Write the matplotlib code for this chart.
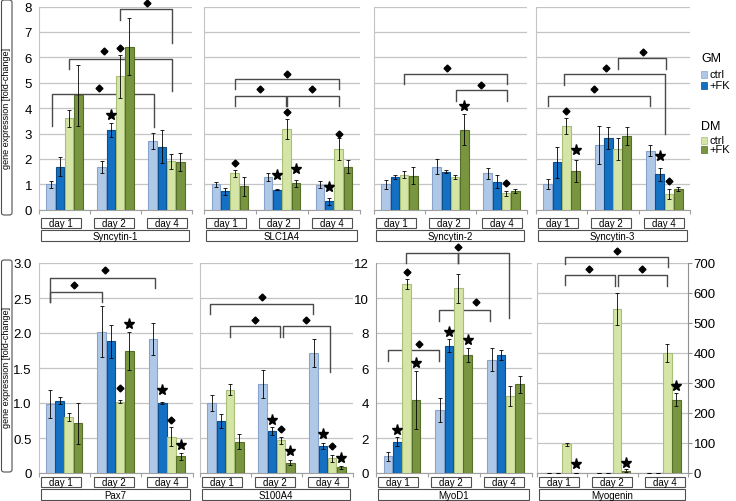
# gene expression bar panels (fold-change), GM / DM with and without FK
import matplotlib.pyplot as plt
from matplotlib.patches import Rectangle, FancyBboxPatch
import numpy as np

plt.rcParams['font.family'] = ['Liberation Sans', 'DejaVu Sans']

days = ['day 1', 'day 2', 'day 4']
series = ['GM ctrl', 'GM +FK', 'DM ctrl', 'DM +FK']

# rows = day 1 / day 2 / day 4, columns = GM ctrl, GM +FK, DM ctrl, DM +FK
syncytin1 = [[1.0, 1.7, 3.6, 4.5], [1.68, 3.15, 5.25, 6.42], [2.7, 2.47, 1.9, 1.88]]
syncytin1_err = [[0.13, 0.37, 0.33, 1.2], [0.24, 0.27, 0.84, 1.12], [0.32, 0.65, 0.28, 0.37]]
slc1a4 = [[1.0, 0.72, 1.44, 0.92], [1.3, 0.79, 3.19, 1.04], [0.98, 0.33, 2.39, 1.7]]
slc1a4_err = [[0.1, 0.13, 0.14, 0.37], [0.16, 0.03, 0.4, 0.13], [0.14, 0.14, 0.42, 0.25]]
syncytin2 = [[1.0, 1.28, 1.38, 1.34], [1.69, 1.5, 1.3, 3.15], [1.43, 1.11, 0.64, 0.75]]
syncytin2_err = [[0.18, 0.07, 0.15, 0.33], [0.3, 0.05, 0.08, 0.62], [0.22, 0.25, 0.1, 0.08]]
syncytin3 = [[1.0, 1.86, 3.3, 1.53], [2.54, 2.82, 2.39, 2.89], [2.32, 1.4, 0.62, 0.81]]
syncytin3_err = [[0.2, 0.6, 0.3, 0.43], [0.74, 0.43, 0.44, 0.36], [0.22, 0.26, 0.18, 0.09]]
pax7 = [[0.99, 1.03, 0.8, 0.71], [2.02, 1.88, 1.02, 1.74], [1.91, 1.0, 0.52, 0.24]]
pax7_err = [[0.2, 0.05, 0.06, 0.29], [0.36, 0.23, 0.02, 0.27], [0.23, 0.02, 0.14, 0.05]]
s100a4 = [[1.0, 0.75, 1.19, 0.45], [1.27, 0.6, 0.47, 0.15], [1.72, 0.39, 0.21, 0.08]]
s100a4_err = [[0.11, 0.1, 0.08, 0.11], [0.2, 0.06, 0.05, 0.03], [0.2, 0.04, 0.05, 0.02]]
myod1 = [[0.95, 1.78, 10.8, 4.17], [3.6, 7.28, 10.57, 6.74], [6.48, 6.74, 4.38, 5.08]]
myod1_err = [[0.25, 0.25, 0.3, 1.65], [0.7, 0.35, 0.83, 0.38], [0.67, 0.3, 0.57, 0.48]]
myogenin = [[0, 0, 96, 1], [0, 0, 547, 8], [0, 0, 401, 244]]
myogenin_err = [[0, 0, 5, 0], [0, 0, 53, 5], [0, 0, 30, 22]]

# significance marks: (day, series, height, 'D' diamond / '*' star)
syncytin1_marks = [(1, 1, 3.72, '*'), (1, 2, 6.35, 'D')]
slc1a4_marks = [(0, 2, 1.84, 'D'), (1, 1, 1.37, '*'), (1, 2, 3.86, 'D'), (1, 3, 1.6, '*'),
                (2, 1, 0.9, '*'), (2, 2, 3.0, 'D')]
syncytin2_marks = [(1, 3, 4.07, '*'), (2, 2, 1.05, 'D')]
syncytin3_marks = [(0, 2, 3.9, 'D'), (0, 3, 2.36, '*'), (2, 1, 2.1, '*'), (2, 2, 1.14, 'D')]
pax7_marks = [(1, 2, 1.21, 'D'), (1, 3, 2.13, '*'), (2, 1, 1.19, '*'), (2, 2, 0.76, 'D'),
              (2, 3, 0.4, '*')]
s100a4_marks = [(1, 1, 0.76, '*'), (1, 2, 0.63, 'D'), (1, 3, 0.31, '*'), (2, 1, 0.56, '*'),
                (2, 2, 0.39, 'D'), (2, 3, 0.21, '*')]
myod1_marks = [(0, 1, 2.44, '*'), (0, 2, 11.46, 'D'), (0, 3, 6.3, '*'), (1, 1, 8.04, '*'),
               (1, 3, 7.6, '*')]
myogenin_marks = [(0, 3, 30, '*'), (1, 3, 33, '*'), (2, 3, 290, '*')]

# brackets: (x left, x right, top, left end, right end, diamond x, diamond y), x in day units 0..3
syncytin1_br = [(0.25, 2.25, 4.55, 3.28, 3.27, 1.17, 4.81),
                (0.58, 2.61, 5.95, 5.53, 4.68, 1.28, 6.23),
                (1.59, 2.61, 7.9, 7.47, 6.58, 2.12, 8.13)]
slc1a4_br = [(0.6, 2.59, 5.14, 4.75, 4.75, 1.6, 5.36),
             (0.6, 1.57, 4.49, 4.07, 4.07, 1.08, 4.75),
             (1.6, 2.59, 4.49, 4.07, 4.07, 2.07, 4.75)]
syncytin2_br = [(0.59, 2.6, 5.34, 4.95, 4.95, 1.44, 5.56),
                (1.6, 2.6, 4.71, 4.29, 4.29, 2.09, 4.92)]
syncytin3_br = [(0.23, 2.23, 4.49, 4.07, 4.07, 1.13, 4.75),
                (0.54, 2.52, 5.34, 4.9, 3.0, 1.37, 5.56),
                (1.59, 2.53, 5.97, 5.53, 5.55, 2.08, 6.22)]
pax7_br = [(0.23, 1.23, 2.59, 2.45, 2.45, 0.69, 2.69),
           (0.23, 2.26, 2.78, 2.45, 2.64, 1.29, 2.9)]
s100a4_br = [(0.2, 2.21, 2.41, 2.27, 2.27, 1.22, 2.52),
             (0.59, 1.57, 2.1, 1.95, 1.95, 1.07, 2.18),
             (1.62, 2.55, 2.1, 1.95, 1.45, 2.08, 2.18)]
myod1_br = [(0.58, 2.57, 12.6, 12.0, 8.84, 1.58, 12.9),
            (1.58, 1.58, 12.6, 11.98, 11.98, None, None),
            (0.23, 1.21, 7.05, 6.38, 6.4, 0.83, 7.38),
            (1.21, 2.2, 9.33, 8.7, 8.7, 1.92, 9.79)]
myogenin_br = [(0.56, 2.6, 720, 698, 687, 1.59, 741),
               (0.56, 1.54, 661, 628, 625, 1.04, 680),
               (1.6, 2.59, 661, 625, 625, 2.08, 680)]

face = ['#b0c8e8', '#1470c2', '#d4e5a6', '#78953f']
edge = ['#88a4cc', '#0c4f8e', '#a9bf78', '#56702c']
offs = np.array([-0.27, -0.09, 0.09, 0.27])

W, H = 736, 502
fig = plt.figure(figsize=(W / 100, H / 100), dpi=100)


def rect(l, t, r, b):
    return [l / W, 1 - b / H, (r - l) / W, (b - t) / H]


def panel(box, vals, errs, marks, brackets, ymax, step, labels=None, right=False):
    ax = fig.add_axes(rect(*box))
    vals = np.array(vals, dtype=float)
    errs = np.array(errs, dtype=float)
    x0 = np.arange(3) + 0.5
    for j in range(4):
        ax.bar(x0 + offs[j], vals[:, j], width=0.17, color=face[j], edgecolor=edge[j],
               linewidth=0.8, zorder=3)
        ax.errorbar(x0 + offs[j], vals[:, j], yerr=errs[:, j], fmt='none', ecolor='black',
                    elinewidth=0.6, capsize=1.5, capthick=0.6, zorder=4)
    for d, s, y, m in marks:
        ax.plot(x0[d] + offs[s], y, marker=m, color='black', ms=3.5 if m == 'D' else 8,
                zorder=5, clip_on=False)
    for xl, xr, yt, yl, yr, dx, dy in brackets:
        ax.plot([xl, xl, xr, xr], [yl, yt, yt, yr], color='#4a4a4a', lw=1.0, zorder=2,
                clip_on=False)
        if dx is not None:
            ax.plot(dx, dy, marker='D', color='black', ms=3.5, zorder=5, clip_on=False)
    ax.set_xlim(0, 3)
    ax.set_ylim(0, ymax)
    ax.set_yticks(np.arange(0, ymax + step / 2, step))
    ax.grid(axis='y', color='#c4c4c4', lw=0.9, zorder=0)
    ax.set_axisbelow(True)
    ax.set_xticks([0, 1, 2, 3])
    ax.set_xticklabels([])
    ax.tick_params(axis='x', length=3, color='#a0a0a0')
    for s in ['top', 'right']:
        ax.spines[s].set_visible(False)
    ax.spines['bottom'].set_color('#a0a0a0')
    ax.spines['left'].set_color('#c4c4c4')
    if right:
        ax.spines['right'].set_visible(True)
        ax.spines['right'].set_color('#909090')
        ax.yaxis.tick_right()
        ax.tick_params(axis='y', length=3, pad=1, color='#909090', labelsize=9.5)
    else:
        ax.tick_params(axis='y', length=0, pad=5, labelsize=9.5)
    if labels is None:
        ax.set_yticklabels([])
    else:
        ax.set_yticklabels(labels)
    return ax


def boxes(l, r, top, name):
    for i, d in enumerate(days):
        c = l + 22 + 53 * i
        fig.add_artist(Rectangle(((c - 20) / W, 1 - (top + 10) / H), 40 / W, 10 / H,
                                 transform=fig.transFigure, fill=False, ec='#505050', lw=0.8))
        fig.text(c / W, 1 - (top + 5) / H, d, ha='center', va='center', fontsize=7)
    fig.add_artist(Rectangle(((l + 2) / W, 1 - (top + 23) / H), (r - l - 5) / W, 11 / H,
                             transform=fig.transFigure, fill=False, ec='#505050', lw=0.8))
    fig.text((l + (r - l - 1) / 2) / W, 1 - (top + 17.5) / H, name, ha='center', va='center',
             fontsize=7)


top_labels = [str(v) for v in range(0, 9)]
panel((39, 7.5, 192, 210.7), syncytin1, syncytin1_err, syncytin1_marks, syncytin1_br, 8, 1,
      top_labels)
panel((204, 7.5, 360, 210.7), slc1a4, slc1a4_err, slc1a4_marks, slc1a4_br, 8, 1)
panel((374, 7.5, 527, 210.7), syncytin2, syncytin2_err, syncytin2_marks, syncytin2_br, 8, 1)
panel((536, 7.5, 690, 210.7), syncytin3, syncytin3_err, syncytin3_marks, syncytin3_br, 8, 1)

pax_labels = ['0', '0.5', '1.0', '1.5', '2.0', '2.5', '3.0']
panel((38.5, 264, 192.5, 474), pax7, pax7_err, pax7_marks, pax7_br, 3.0, 0.5, pax_labels)
panel((200, 264, 353, 474), s100a4, s100a4_err, s100a4_marks, s100a4_br, 3.0, 0.5)
ax_m = panel((376, 264, 531.5, 474), myod1, myod1_err, myod1_marks, myod1_br, 12, 2,
             [str(v) for v in range(0, 13, 2)])
ax_m.spines['left'].set_color('#a0a0a0')
panel((537, 264, 688, 474), myogenin, myogenin_err, myogenin_marks, myogenin_br, 700, 100,
      [str(v) for v in range(0, 701, 100)], right=True)

for l, r, name in [(39, 192, 'Syncytin-1'), (204, 360, 'SLC1A4'), (374, 527, 'Syncytin-2'),
                   (536, 690, 'Syncytin-3')]:
    boxes(l, r, 219.3, name)
for l, r, name in [(38.5, 192.5, 'Pax7'), (200, 353, 'S100A4'), (376, 531.5, 'MyoD1'),
                   (537, 688, 'Myogenin')]:
    boxes(l, r, 478.3, name)

# y axis titles in boxes
for t, b in [(1, 216), (261, 473)]:
    fig.add_artist(FancyBboxPatch((1.5 / W, 1 - b / H), 10.5 / W, (b - t) / H,
                                  boxstyle='round,pad=0,rounding_size=0.004',
                                  transform=fig.transFigure, fill=False, ec='#505050', lw=0.8))
    fig.text(6.8 / W, 1 - (t + b) / 2 / H, 'gene expression [fold-change]', rotation=90,
             ha='center', va='center', fontsize=6.5)

# legend
leg = [('GM', 59, None), ('ctrl', 75, 0), ('+FK', 86, 1),
       ('DM', 127, None), ('ctrl', 141, 2), ('+FK', 150.5, 3)]
for txt, y, j in leg:
    if j is None:
        fig.text(701 / W, 1 - y / H, txt, ha='left', va='center', fontsize=9)
    else:
        fig.add_artist(Rectangle((701 / W, 1 - (y + 3.5) / H), 6 / W, 7 / H,
                                 transform=fig.transFigure, fc=face[j], ec=edge[j], lw=0.5))
        fig.text(709 / W, 1 - y / H, txt, ha='left', va='center', fontsize=8)

fig.savefig('out.png', dpi=100)
